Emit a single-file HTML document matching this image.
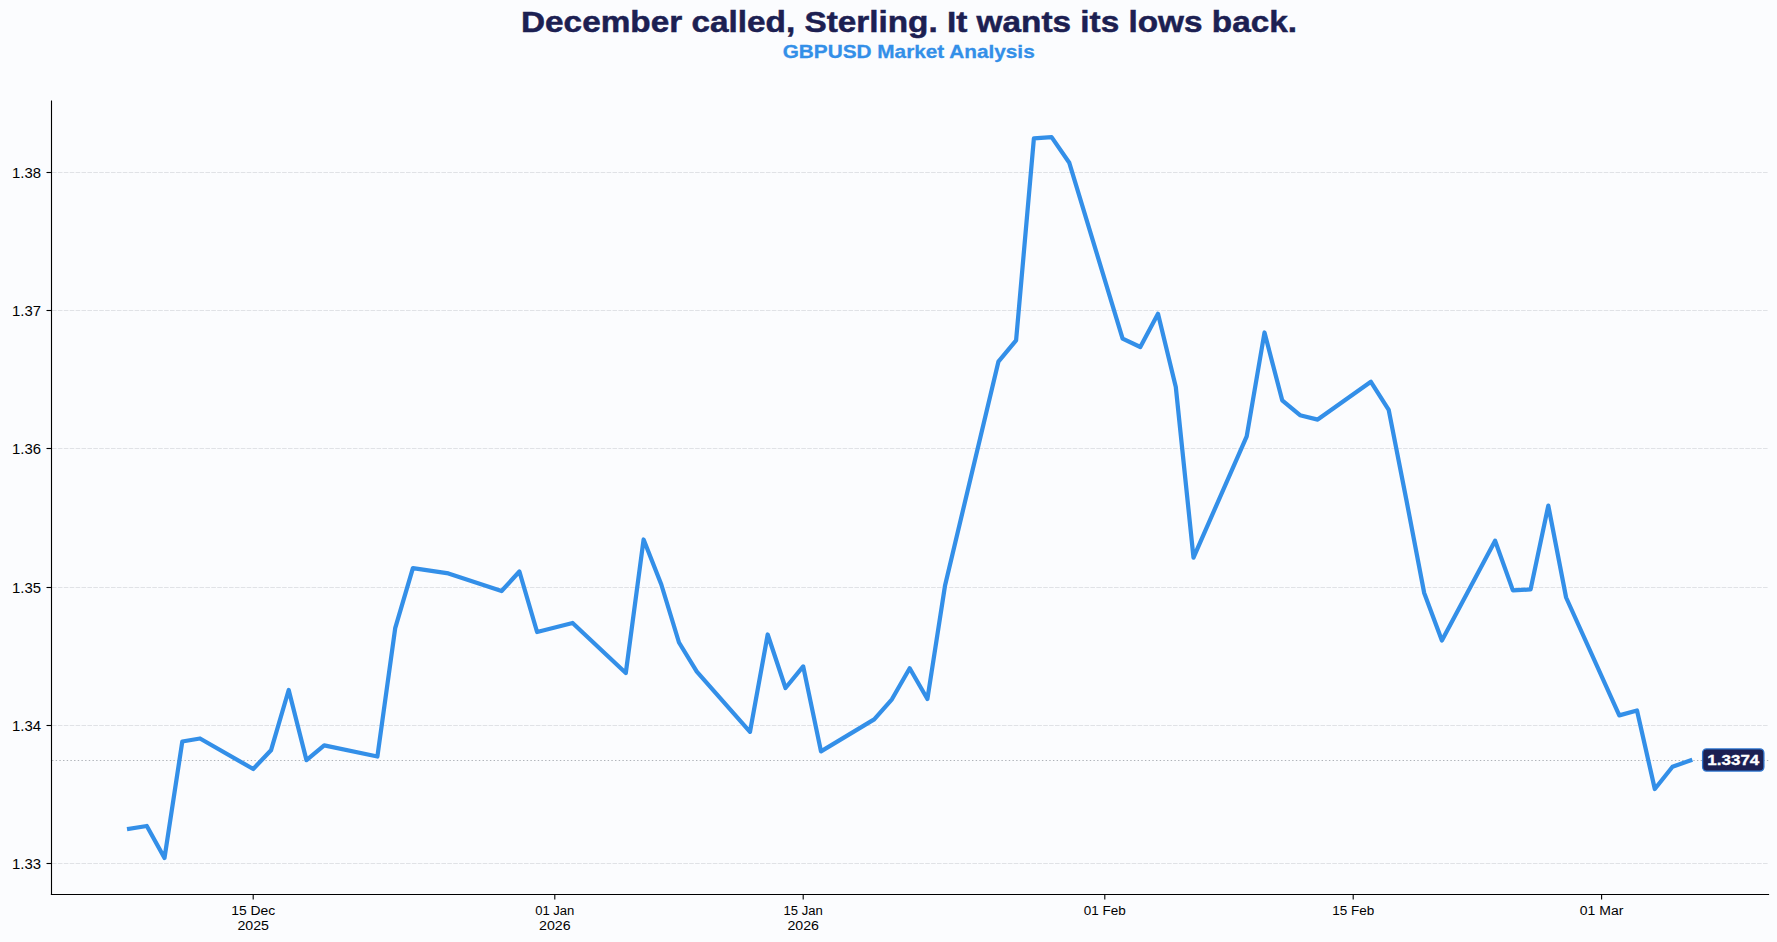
<!DOCTYPE html>
<html><head><meta charset="utf-8"><style>
html,body{margin:0;padding:0;background:#fbfcfe;}
body{width:1777px;height:942px;overflow:hidden;}
svg{display:block;}
text{font-family:"Liberation Sans",sans-serif;}
.tk{font-size:14.7px;fill:#000;}
.tx{font-size:13.25px;fill:#000;}
.lb{font-size:14.7px;font-weight:bold;fill:#fff;stroke:#fff;stroke-width:0.3px;}
.t1{font-size:29.4px;font-weight:bold;fill:#1c2052;stroke:#1c2052;stroke-width:0.5px;}
.t2{font-size:19px;font-weight:bold;fill:#338fe8;stroke:#338fe8;stroke-width:0.3px;}
</style></head><body>
<svg width="1777" height="942" viewBox="0 0 1777 942" xmlns="http://www.w3.org/2000/svg">
<rect width="1777" height="942" fill="#fbfcfe"/>
<line x1="52.0" y1="863.5" x2="1768.5" y2="863.5" stroke="#e0e2e6" stroke-width="1" stroke-dasharray="4.6,1.3"/>
<line x1="52.0" y1="725.5" x2="1768.5" y2="725.5" stroke="#e0e2e6" stroke-width="1" stroke-dasharray="4.6,1.3"/>
<line x1="52.0" y1="587.5" x2="1768.5" y2="587.5" stroke="#e0e2e6" stroke-width="1" stroke-dasharray="4.6,1.3"/>
<line x1="52.0" y1="448.5" x2="1768.5" y2="448.5" stroke="#e0e2e6" stroke-width="1" stroke-dasharray="4.6,1.3"/>
<line x1="52.0" y1="310.5" x2="1768.5" y2="310.5" stroke="#e0e2e6" stroke-width="1" stroke-dasharray="4.6,1.3"/>
<line x1="52.0" y1="172.5" x2="1768.5" y2="172.5" stroke="#e0e2e6" stroke-width="1" stroke-dasharray="4.6,1.3"/>
<line x1="52.0" y1="760.5" x2="1768.5" y2="760.5" stroke="#aeb2b8" stroke-width="1.2" stroke-dasharray="1.39,2.29"/>
<polyline points="129.1,828.8 146.8,826.0 164.5,858.0 182.3,741.5 200.0,738.5 253.2,769.0 271.0,750.3 288.7,690.0 306.5,760.2 324.2,745.3 377.4,756.5 395.2,628.2 412.9,568.2 448.4,573.4 501.6,591.0 519.4,571.5 537.1,632.0 572.6,623.0 625.8,673.0 643.6,539.5 661.3,584.5 679.0,642.5 696.8,671.6 750.0,731.8 767.7,634.5 785.5,688.0 803.2,666.4 821.0,751.4 874.2,719.4 891.9,699.3 909.7,668.3 927.4,699.0 945.1,585.2 998.4,361.7 1016.1,340.4 1033.9,138.4 1051.6,137.1 1069.3,162.8 1122.6,338.6 1140.3,347.0 1158.0,313.8 1175.8,387.0 1193.5,557.6 1246.7,436.3 1264.5,332.5 1282.2,400.3 1300.0,415.2 1317.7,419.6 1370.9,381.8 1388.7,409.8 1406.4,500.0 1424.2,593.0 1441.9,640.5 1495.1,540.7 1512.9,590.4 1530.6,589.4 1548.3,505.6 1566.1,597.5 1619.3,715.4 1637.0,710.5 1654.8,789.0 1672.5,766.8 1690.3,760.4" fill="none" stroke="#338fe8" stroke-width="4.25" stroke-linejoin="round" stroke-linecap="square"/>
<line x1="51.5" y1="100.6" x2="51.5" y2="895.1" stroke="#000" stroke-width="1.11"/>
<line x1="50.9" y1="894.5" x2="1769.1" y2="894.5" stroke="#000" stroke-width="1.11"/>
<line x1="46.5" y1="863.5" x2="51.5" y2="863.5" stroke="#000" stroke-width="1.11"/>
<text x="41" y="869.0" text-anchor="end" class="tk" textLength="29" lengthAdjust="spacingAndGlyphs">1.33</text>
<line x1="46.5" y1="725.5" x2="51.5" y2="725.5" stroke="#000" stroke-width="1.11"/>
<text x="41" y="731.0" text-anchor="end" class="tk" textLength="29" lengthAdjust="spacingAndGlyphs">1.34</text>
<line x1="46.5" y1="587.5" x2="51.5" y2="587.5" stroke="#000" stroke-width="1.11"/>
<text x="41" y="593.0" text-anchor="end" class="tk" textLength="29" lengthAdjust="spacingAndGlyphs">1.35</text>
<line x1="46.5" y1="448.5" x2="51.5" y2="448.5" stroke="#000" stroke-width="1.11"/>
<text x="41" y="454.0" text-anchor="end" class="tk" textLength="29" lengthAdjust="spacingAndGlyphs">1.36</text>
<line x1="46.5" y1="310.5" x2="51.5" y2="310.5" stroke="#000" stroke-width="1.11"/>
<text x="41" y="316.0" text-anchor="end" class="tk" textLength="29" lengthAdjust="spacingAndGlyphs">1.37</text>
<line x1="46.5" y1="172.5" x2="51.5" y2="172.5" stroke="#000" stroke-width="1.11"/>
<text x="41" y="178.0" text-anchor="end" class="tk" textLength="29" lengthAdjust="spacingAndGlyphs">1.38</text>
<line x1="253.2" y1="894.5" x2="253.2" y2="899.5" stroke="#000" stroke-width="1.11"/>
<text x="253.2" y="915" text-anchor="middle" class="tx" textLength="44.0" lengthAdjust="spacingAndGlyphs">15 Dec</text>
<text x="253.2" y="930" text-anchor="middle" class="tx" textLength="31.6" lengthAdjust="spacingAndGlyphs">2025</text>
<line x1="554.8" y1="894.5" x2="554.8" y2="899.5" stroke="#000" stroke-width="1.11"/>
<text x="554.8" y="915" text-anchor="middle" class="tx" textLength="39.2" lengthAdjust="spacingAndGlyphs">01 Jan</text>
<text x="554.8" y="930" text-anchor="middle" class="tx" textLength="31.6" lengthAdjust="spacingAndGlyphs">2026</text>
<line x1="803.2" y1="894.5" x2="803.2" y2="899.5" stroke="#000" stroke-width="1.11"/>
<text x="803.2" y="915" text-anchor="middle" class="tx" textLength="39.2" lengthAdjust="spacingAndGlyphs">15 Jan</text>
<text x="803.2" y="930" text-anchor="middle" class="tx" textLength="31.6" lengthAdjust="spacingAndGlyphs">2026</text>
<line x1="1104.8" y1="894.5" x2="1104.8" y2="899.5" stroke="#000" stroke-width="1.11"/>
<text x="1104.8" y="915" text-anchor="middle" class="tx" textLength="42.0" lengthAdjust="spacingAndGlyphs">01 Feb</text>
<line x1="1353.2" y1="894.5" x2="1353.2" y2="899.5" stroke="#000" stroke-width="1.11"/>
<text x="1353.2" y="915" text-anchor="middle" class="tx" textLength="42.0" lengthAdjust="spacingAndGlyphs">15 Feb</text>
<line x1="1601.6" y1="894.5" x2="1601.6" y2="899.5" stroke="#000" stroke-width="1.11"/>
<text x="1601.6" y="915" text-anchor="middle" class="tx" textLength="43.5" lengthAdjust="spacingAndGlyphs">01 Mar</text>
<rect x="1702.6" y="748.9" width="61.3" height="22.2" rx="4" ry="4" fill="#1c2052" stroke="#2f75cf" stroke-width="1.3"/>
<text x="1733.3" y="765" text-anchor="middle" class="lb" textLength="52" lengthAdjust="spacingAndGlyphs">1.3374</text>
<text x="909" y="32.2" text-anchor="middle" class="t1" textLength="776" lengthAdjust="spacingAndGlyphs">December called, Sterling. It wants its lows back.</text>
<text x="908.7" y="57.6" text-anchor="middle" class="t2" textLength="252" lengthAdjust="spacingAndGlyphs">GBPUSD Market Analysis</text>
</svg>
</body></html>
